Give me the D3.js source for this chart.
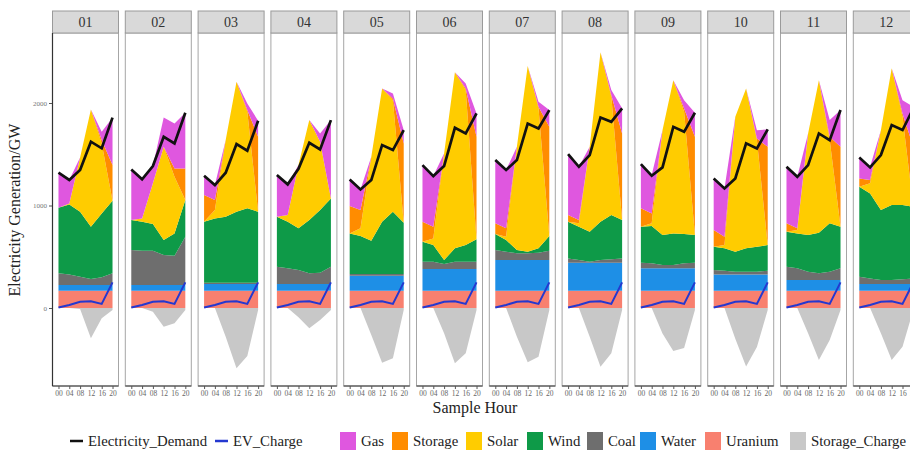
<!DOCTYPE html>
<html>
<head>
<meta charset="utf-8">
<script src="https://cdn.jsdelivr.net/npm/d3@7"></script>
<style>
  body { margin: 0; background: #fff; }
  svg { display: block; font-family: "Liberation Serif", "Times New Roman", serif; }
</style>
</head>
<body>
<div id="chart"></div>
<script>
// values, GW
const months = ["01","02","03","04","05","06","07","08","09","10","11","12"];
const hours = ["00","04","08","12","16","20"];

const uranium = [169,169,169,169,169,169,169,169,169,169,169,169];
const water   = [55,55,65,65,146,211,299,273,218,159,104,65];
const coal = [
  [114,104,82,59,75,114],[341,335,335,293,286,472],[13,13,13,13,13,13],[169,153,137,104,111,169],
  [16,16,16,16,16,16],[72,72,49,72,72,72],[98,81,65,65,72,91],[42,26,10,26,33,42],
  [55,49,32,32,49,55],[43,36,26,26,26,36],[130,114,81,65,81,114],[71,55,39,39,46,55]
];
const wind = [
  [640,683,633,510,624,709],[293,283,260,146,218,357],[595,627,644,692,725,692],[488,455,406,520,611,666],
  [397,371,325,511,608,501],[195,162,39,130,162,218],[156,114,33,16,42,143],[358,325,292,374,432,374],
  [351,364,293,309,286,270],[227,218,195,228,244,250],[341,341,358,397,472,406],[878,829,683,731,724,699]
];
const solar = [
  [0,9,530,1144,683,0],[0,32,397,910,553,0],[0,82,747,1268,942,0],[0,65,617,975,666,0],
  [0,75,820,1300,1089,0],[0,65,1040,1719,1512,0],[0,33,1007,1811,1365,0],[0,33,829,1654,1153,0],
  [0,26,1023,1495,1192,0],[0,32,1317,1560,1040,0],[0,33,991,1488,812,0],[0,98,779,1336,862,0]
];
const storage = [
  [0,0,0,0,34,348],[0,0,0,0,81,309],[260,97,0,0,17,732],[0,0,0,0,0,0],
  [267,179,0,0,16,774],[195,114,0,0,16,1001],[104,81,0,0,16,1066],[65,32,0,0,17,845],
  [179,97,0,0,33,959],[163,82,0,0,16,959],[82,16,0,0,33,780],[81,32,0,0,32,585]
];
const gas = [
  [342,229,0,0,80,462],[494,381,169,286,438,543],[188,146,0,0,65,156],[406,299,0,0,81,764],
  [260,201,0,0,49,130],[552,494,0,0,49,227],[617,569,0,0,49,163],[595,520,0,0,49,245],
  [432,374,0,0,81,234],[503,471,0,0,81,169],[552,503,0,0,162,358],[212,130,0,0,130,390]
];
const storageCharge = [
  [0,0,-10,-296,-100,-20],[0,0,-36,-182,-150,-20],[0,0,-280,-588,-468,-20],[0,0,-91,-198,-117,-20],
  [0,0,-263,-533,-491,-20],[0,0,-247,-540,-442,-20],[0,0,-280,-530,-475,-20],[0,0,-280,-572,-442,-20],
  [0,0,-250,-420,-390,-20],[0,0,-300,-570,-380,-20],[0,0,-247,-507,-312,-20],[0,0,-247,-507,-377,-20]
];
const demand = [
  [1320,1249,1346,1623,1558,1857],[1352,1255,1385,1671,1606,1905],[1290,1199,1320,1600,1534,1827],
  [1297,1206,1358,1612,1547,1833],[1254,1157,1248,1589,1541,1736],[1394,1287,1385,1758,1703,1898],
  [1443,1346,1443,1800,1752,1931],[1502,1378,1492,1859,1817,1947],[1404,1290,1372,1768,1719,1905],
  [1264,1167,1264,1606,1557,1742],[1378,1280,1394,1703,1638,1931],[1469,1372,1492,1784,1736,1947]
];
const evCharge = [5,30,60,65,40,250];

const yTicks = [0, 1000, 2000];
const stackKeys = ["Uranium","Water","Coal","Wind","Solar","Storage","Gas"];
const colors = {
  Gas: "#df57df", Storage: "#ff8c00", Solar: "#ffcc00", Wind: "#0e9a48",
  Coal: "#6e6e6e", Water: "#1e8fe6", Uranium: "#f8806f", Storage_Charge: "#c8c8c8"
};
const serif = "Liberation Serif, Times New Roman, serif";

const width = 910, height = 453;
const panelX0 = 52, panelStep = 72.8, panelW = 67;
const stripTop = 11, plotTop = 33, plotBottom = 386;

const svg = d3.select("#chart").append("svg")
  .attr("width", width).attr("height", height)
  .attr("font-family", serif);

const x = d3.scalePoint().domain(hours).range([0, panelW]).padding(0.6);
const y = d3.scaleLinear().domain([-761, 2683]).range([plotBottom, plotTop]);

const stack = d3.stack().keys(stackKeys);
const area = d3.area()
  .x(d => x(d.data.hour))
  .y0(d => y(d[0]))
  .y1(d => y(d[1]));

months.forEach(function(m, i) {
  var rows = hours.map(function(h, j) {
    return {
      hour: h,
      Uranium: uranium[i], Water: water[i], Coal: coal[i][j], Wind: wind[i][j],
      Solar: solar[i][j], Storage: storage[i][j], Gas: gas[i][j],
      charge: storageCharge[i][j], demand: demand[i][j], ev: evCharge[j]
    };
  });

  var g = svg.append("g").attr("transform", "translate(" + (panelX0 + i * panelStep) + ",0)");

  // panel frame
  g.append("rect")
    .attr("x", 0.5).attr("y", plotTop).attr("width", panelW - 1).attr("height", plotBottom - plotTop)
    .attr("fill", "#fff").attr("stroke", "#a6a6a6").attr("stroke-width", 1);

  // strip
  g.append("rect")
    .attr("x", 0.5).attr("y", stripTop).attr("width", panelW - 1).attr("height", plotTop - stripTop)
    .attr("fill", "#d9d9d9").attr("stroke", "#9a9a9a").attr("stroke-width", 1);
  g.append("text")
    .attr("x", panelW / 2).attr("y", (stripTop + plotTop) / 2 + 5)
    .attr("text-anchor", "middle").attr("font-size", 14).attr("fill", "#333")
    .text(m);

  // stacked generation
  g.selectAll("path.layer")
    .data(stack(rows))
    .enter().append("path")
    .attr("class", "layer")
    .attr("fill", d => colors[d.key])
    .attr("d", area);

  // storage charge below zero
  g.append("path")
    .datum(rows)
    .attr("fill", colors.Storage_Charge)
    .attr("d", d3.area().x(d => x(d.hour)).y0(y(0)).y1(d => y(d.charge)));

  // lines
  g.append("path")
    .datum(rows)
    .attr("fill", "none").attr("stroke", "#2438d0").attr("stroke-width", 2)
    .attr("d", d3.line().x(d => x(d.hour)).y(d => y(d.ev)));
  g.append("path")
    .datum(rows)
    .attr("fill", "none").attr("stroke", "#111").attr("stroke-width", 2.7)
    .attr("d", d3.line().x(d => x(d.hour)).y(d => y(d.demand)));

  // x axis
  var xa = g.append("g").attr("transform", "translate(0," + plotBottom + ")")
    .call(d3.axisBottom(x).tickSize(3).tickPadding(2));
  xa.attr("font-family", serif);
  xa.select(".domain").attr("stroke", "#333").attr("stroke-width", 1.2)
    .attr("d", "M0.5,0H" + (panelW - 0.5));
  xa.selectAll(".tick line").attr("stroke", "#555");
  xa.selectAll("text").attr("font-size", 7.5).attr("fill", "#666");

  if (i === 0) {
    var ya = g.append("g")
      .call(d3.axisLeft(y).tickValues(yTicks).tickFormat(d3.format("d")).tickSize(3).tickPadding(2));
    ya.attr("font-family", serif);
    ya.select(".domain").attr("stroke", "#333").attr("stroke-width", 1.2)
      .attr("d", "M0.5," + plotTop + "V" + plotBottom);
    ya.selectAll(".tick line").attr("stroke", "#555");
    ya.selectAll("text").attr("font-size", 7).attr("fill", "#777");
  }
});

// axis titles
svg.append("text")
  .attr("transform", "translate(20,210) rotate(-90)")
  .attr("text-anchor", "middle").attr("font-size", 16).attr("fill", "#222")
  .text("Electricity Generation/GW");
svg.append("text")
  .attr("x", 475).attr("y", 413)
  .attr("text-anchor", "middle").attr("font-size", 16).attr("fill", "#222")
  .text("Sample Hour");

// legend
const legendLines = [
  { name: "Electricity_Demand", color: "#111", x: 70 },
  { name: "EV_Charge", color: "#2438d0", x: 215 }
];
const legendFills = [
  { name: "Gas", x: 340 }, { name: "Storage", x: 392 }, { name: "Solar", x: 466 },
  { name: "Wind", x: 527 }, { name: "Coal", x: 587 }, { name: "Water", x: 640 },
  { name: "Uranium", x: 705 }, { name: "Storage_Charge", x: 790 }
];
const ly = 441;
var lg = svg.append("g").attr("font-size", 14.8).attr("fill", "#222").attr("font-family", serif);
legendLines.forEach(function(d) {
  lg.append("line").attr("x1", d.x).attr("x2", d.x + 13).attr("y1", ly).attr("y2", ly)
    .attr("stroke", d.color).attr("stroke-width", 2.5);
  lg.append("text").attr("x", d.x + 18).attr("y", ly + 5).text(d.name);
});
legendFills.forEach(function(d) {
  lg.append("rect").attr("x", d.x).attr("y", ly - 9).attr("width", 16).attr("height", 18)
    .attr("fill", colors[d.name]);
  lg.append("text").attr("x", d.x + 21).attr("y", ly + 5).text(d.name);
});
</script>
</body>
</html>
